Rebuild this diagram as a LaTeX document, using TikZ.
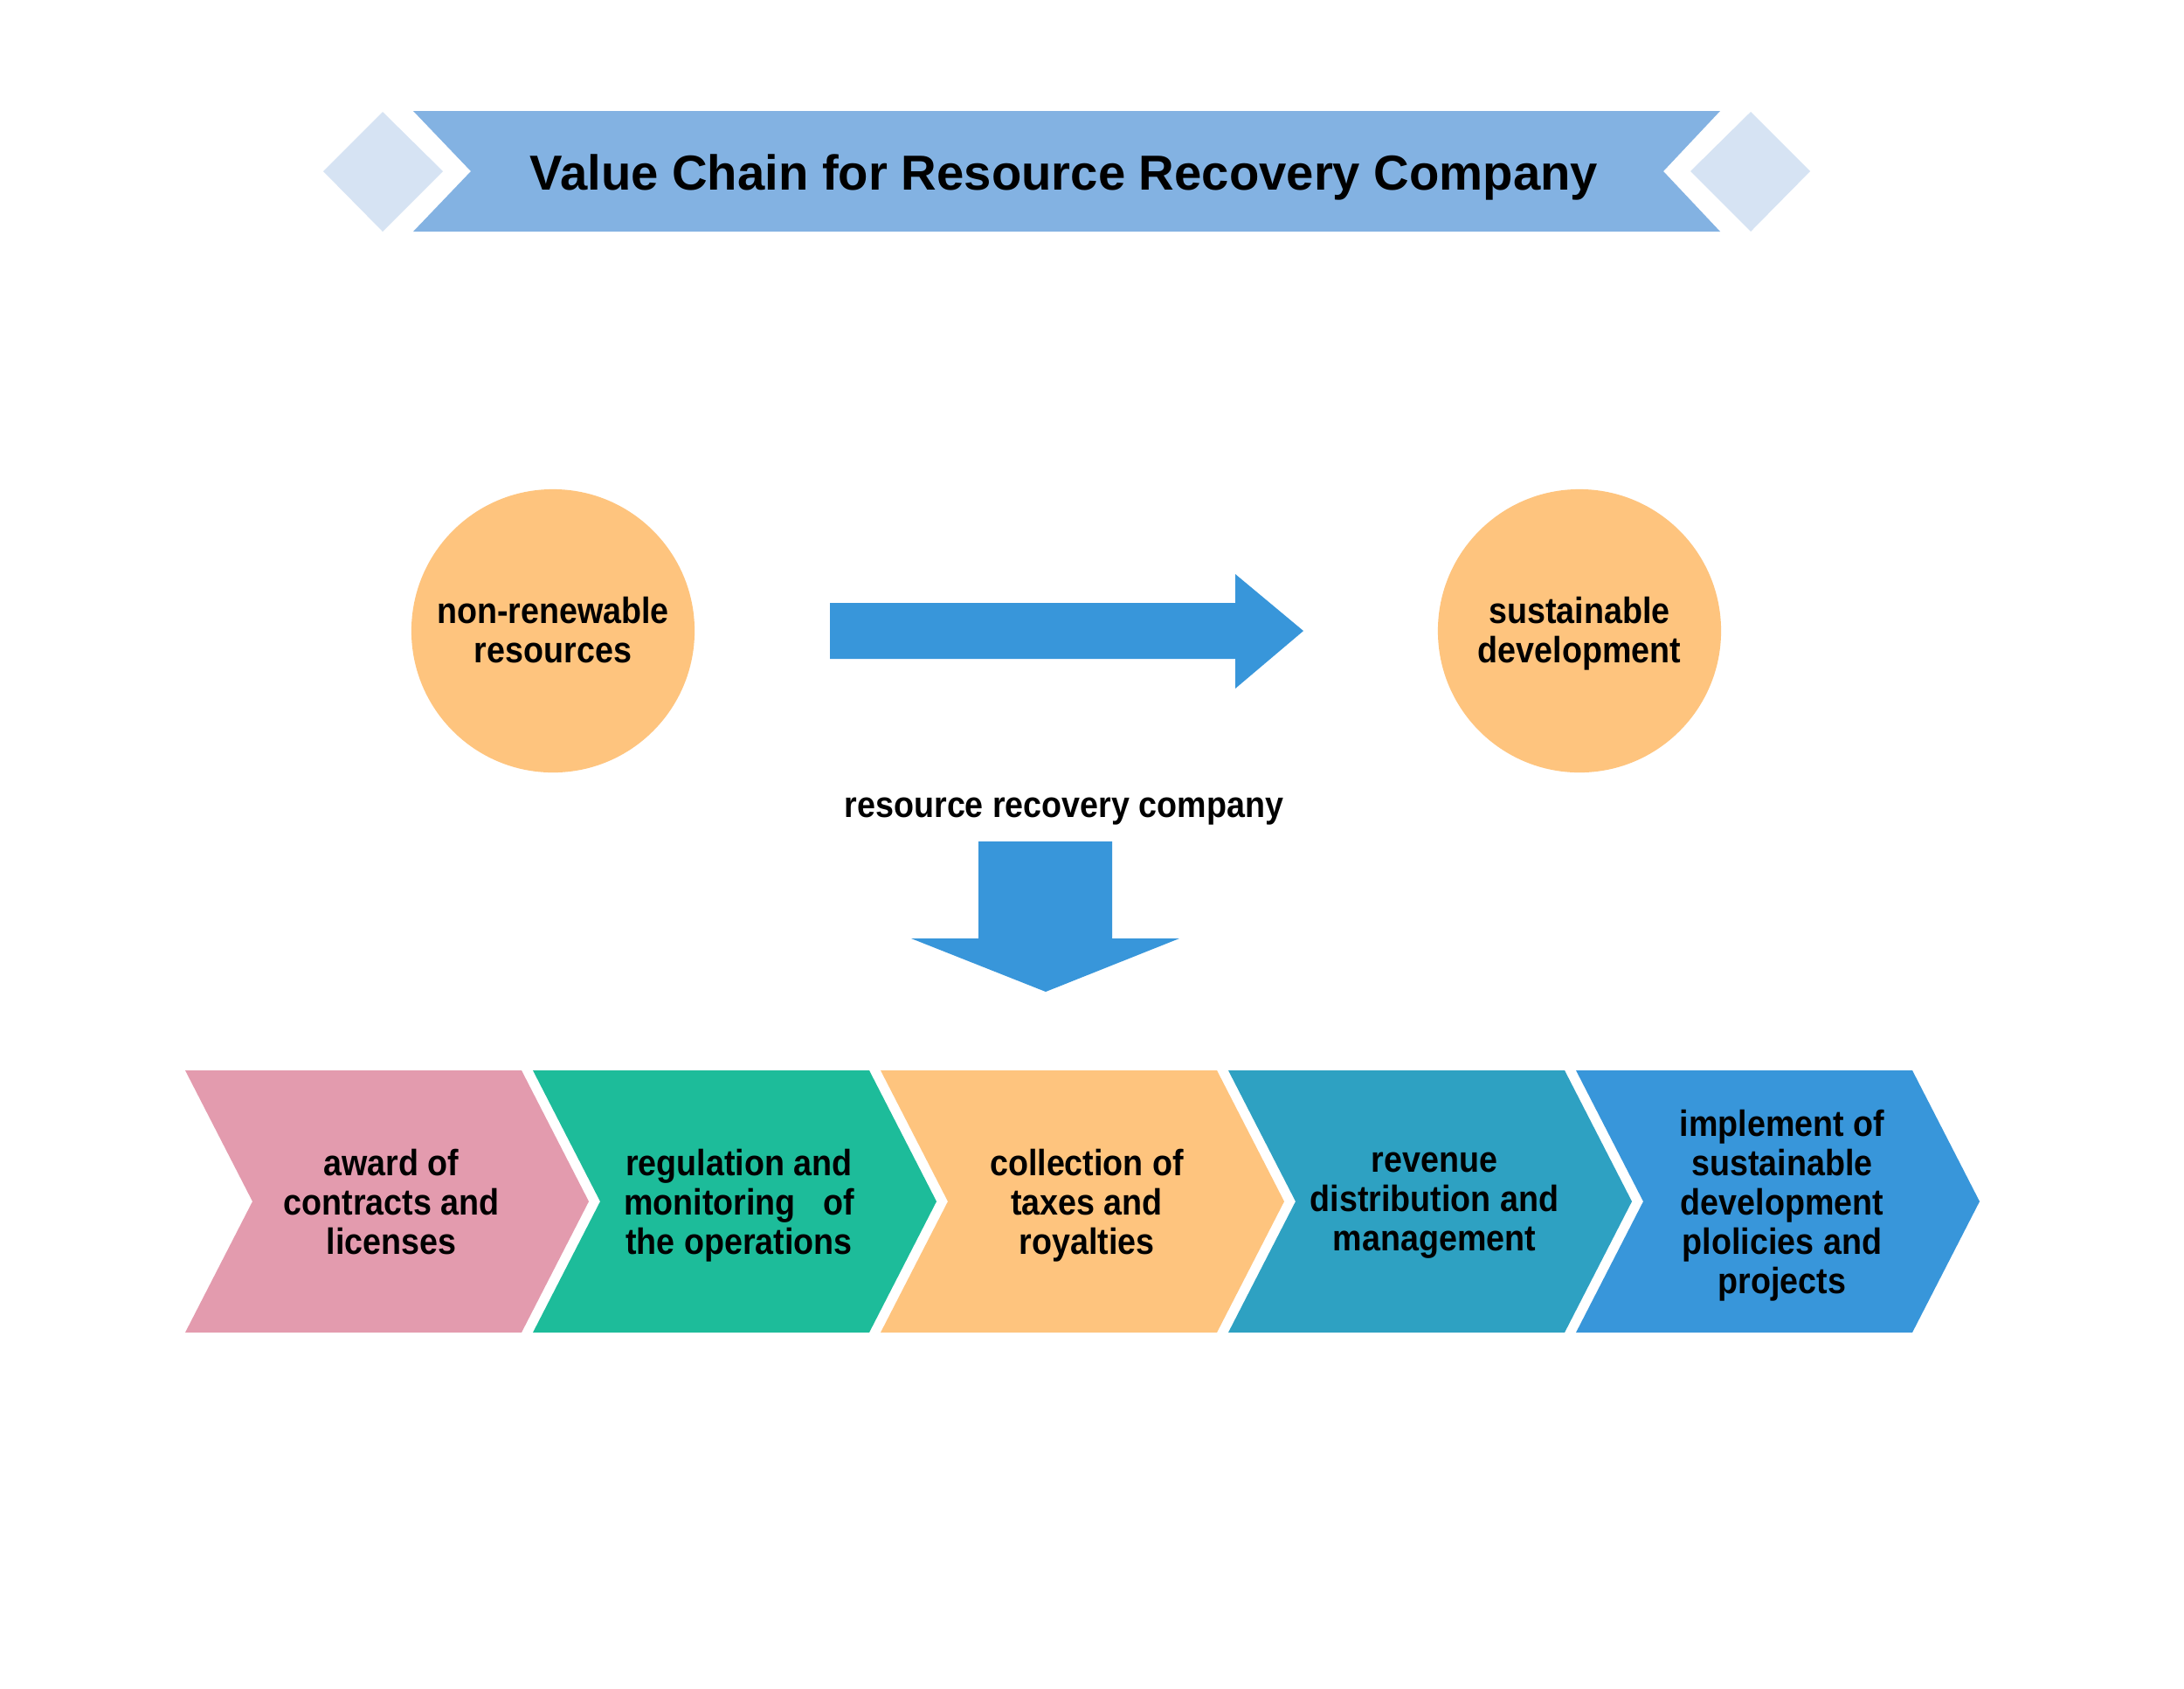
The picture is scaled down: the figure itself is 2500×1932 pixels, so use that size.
\documentclass[tikz,border=0pt]{standalone}
\usepackage{fontspec}
\setmainfont{Liberation Sans}
\newfontfamily\bodyfont[FakeStretch=0.9]{Liberation Sans}
\definecolor{bannerblue}{HTML}{83B2E2}
\definecolor{diamondblue}{HTML}{D6E3F3}
\definecolor{peach}{HTML}{FEC47E}
\definecolor{arrowblue}{HTML}{3896DA}
\definecolor{chpink}{HTML}{E39BAE}
\definecolor{chgreen}{HTML}{1DBC9A}
\definecolor{chteal}{HTML}{2EA1C2}
\tikzset{
  label text/.style={align=center,inner sep=0pt,font=\bodyfont\bfseries\fontsize{11.9}{12.8}\selectfont,
    execute at begin node=\strut,execute at end node=\strut},
  bubble/.style={circle,fill=peach,minimum size=3.24cm,inner sep=0pt}
}
\begin{document}
\begin{tikzpicture}[x=0.01cm,y=-0.01cm]
        \useasboundingbox[fill=white](0,0) rectangle (2500,1932);
        \fill[diamondblue](370,196) -- (438,128) -- (507,196) -- (438,265) -- cycle;
        \fill[diamondblue](1935,196) -- (2004,128) -- (2072,196) -- (2004,265) -- cycle;
        \fill[bannerblue](473,127) -- (1969,127) -- (1904,196) -- (1969,265) -- (473,265) -- (539,196) -- cycle;
        \node[inner sep=0pt,font=\bfseries\fontsize{16}{19}\selectfont,execute at begin node=\strut] (title) at (1218,204) {Value Chain for Resource Recovery Company};
        \node[bubble] (source) at (633,722) {};
        \node[bubble] (goal) at (1808,722) {};
        \node[label text] (sourcetext) at (633,728) {non-renewable\\resources};
        \node[label text] (goaltext) at (1808,728) {sustainable\\development};
        \fill[arrowblue](950,690) -- (1414,690) -- (1414,657) -- (1492,722) -- (1414,788) -- (1414,754) -- (950,754) -- cycle;
        \node[label text] (company) at (1218,926) {resource recovery company};
        \fill[arrowblue](1120,963) -- (1273,963) -- (1273,1074) -- (1350,1074) -- (1197,1135) -- (1043,1074) -- (1120,1074) -- cycle;
        \foreach \i/\col/\txt in {0/chpink/{award of\\contracts and\\licenses},
            1/chgreen/{regulation and\\monitoring~~ of\\the operations},
            2/peach/{collection of\\taxes and\\royalties},
            3/chteal/{revenue\\distribution and\\management},
            4/arrowblue/{implement of\\sustainable\\development\\plolicies and\\projects}}{
            \fill[\col](212+398*\i,1225) --++ (385,0) --++ (77,150) --++ (-77,150) --++ (-385,0) --++ (77,-150) -- cycle;
            \node[label text] (stage\i) at (448+398*\i,1382) {\txt};
        }
    \end{tikzpicture}
\end{document}
